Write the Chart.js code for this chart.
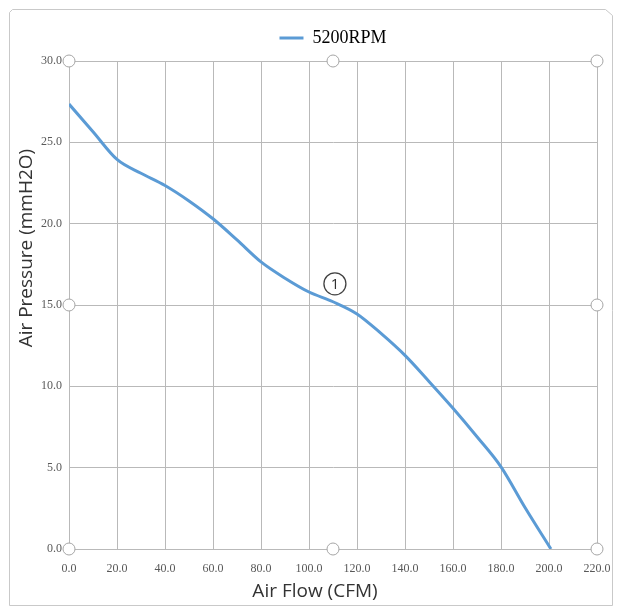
<!DOCTYPE html>
<html>
<head>
<meta charset="utf-8">
<script src="https://cdn.jsdelivr.net/npm/chart.js@4/dist/chart.umd.min.js"></script>
<style>
  html, body { margin: 0; padding: 0; background: #ffffff; }
  #wrap { width: 618px; height: 609px; }
</style>
</head>
<body>
<div id="wrap"><canvas id="fanCurve" width="618" height="609"></canvas></div>
<script>
// Values
const seriesName = "5200RPM";
const flowCfm = [0, 10, 20, 30, 40, 50, 60, 70, 80, 90, 100, 110, 120, 130, 140, 150, 160, 170, 180, 190, 200.8];
const pressureMmH2O = [27.35, 25.65, 23.95, 23.1, 22.35, 21.4, 20.3, 19.0, 17.65, 16.65, 15.8, 15.2, 14.45, 13.25, 11.9, 10.3, 8.65, 6.9, 5.05, 2.55, 0];
const xTicks = [0, 20, 40, 60, 80, 100, 120, 140, 160, 180, 200, 220];
const yTicks = [0, 5, 10, 15, 20, 25, 30];
const markerAt = [110.8, 16.3];
const markerLabel = "1";
const yTitle = "Air Pressure (mmH2O)";
const xTitle = "Air Flow (CFM)";

const lineColor = "#5b9bd5";
const gridColor = "#b9b9b9";
const serif = "'Liberation Serif', 'Times New Roman', serif";
const sans = "'Open Sans', sans-serif";

// Nudge the legend up a little, it sits closer to the frame in the original
const legendNudge = {
  id: "legendNudge",
  afterLayout: (chart) => {
    if (chart.legend) {
      chart.legend.top -= 4;
      chart.legend.bottom -= 4;
    }
  },
};

// Frame, axis titles, selection handles and the circled marker
const decorPlugin = {
  id: "decor",
  beforeDraw: (chart) => {
    const ctx = chart.ctx;
    ctx.save();
    ctx.fillStyle = "#ffffff";
    ctx.fillRect(0, 0, chart.width, chart.height);
    ctx.strokeStyle = "#c9c9c9";
    ctx.lineWidth = 1;
    ctx.beginPath();
    ctx.moveTo(12.5, 9.5);
    ctx.lineTo(605.5, 9.5);
    ctx.lineTo(612.5, 15.5);
    ctx.lineTo(612.5, 605.5);
    ctx.lineTo(9.5, 605.5);
    ctx.lineTo(9.5, 12.5);
    ctx.closePath();
    ctx.stroke();
    ctx.restore();
  },
  afterDraw: (chart) => {
    const ctx = chart.ctx;
    const { left, right, top, bottom } = chart.chartArea;
    const midX = (left + right) / 2;
    const midY = (top + bottom) / 2;

    // axis titles are a bit off-centre in the original
    ctx.save();
    ctx.fillStyle = "#333333";
    ctx.font = `19px ${sans}`;
    ctx.textAlign = "center";
    ctx.textBaseline = "middle";
    ctx.fillText(xTitle, chart.scales.x.getPixelForValue(102.5), 592);
    ctx.translate(27, chart.scales.y.getPixelForValue(18.5));
    ctx.rotate(-Math.PI / 2);
    ctx.fillText(yTitle, 0, 0);
    ctx.restore();

    const handles = [
      [left, top], [midX, top], [right, top],
      [left, midY], [right, midY],
      [left, bottom], [midX, bottom], [right, bottom],
    ];
    ctx.save();
    ctx.lineWidth = 1;
    ctx.strokeStyle = "#a6a6a6";
    ctx.fillStyle = "#ffffff";
    handles.forEach(([hx, hy]) => {
      ctx.beginPath();
      ctx.arc(hx, hy, 6, 0, Math.PI * 2);
      ctx.fill();
      ctx.stroke();
    });

    // circled "1" marker
    const mx = chart.scales.x.getPixelForValue(markerAt[0]);
    const my = chart.scales.y.getPixelForValue(markerAt[1]);
    ctx.beginPath();
    ctx.arc(mx, my, 11, 0, Math.PI * 2);
    ctx.fillStyle = "#ffffff";
    ctx.fill();
    ctx.strokeStyle = "#404040";
    ctx.lineWidth = 1.3;
    ctx.stroke();
    ctx.fillStyle = "#303030";
    ctx.font = `15px ${sans}`;
    ctx.textAlign = "center";
    ctx.textBaseline = "middle";
    ctx.fillText(markerLabel, mx, my + 1);
    ctx.restore();
  },
};

const buildChart = () => {
  const ctx = document.getElementById("fanCurve").getContext("2d");
  new Chart(ctx, {
    type: "line",
    data: {
      datasets: [
        {
          label: seriesName,
          data: flowCfm.map((f, i) => ({ x: f, y: pressureMmH2O[i] })),
          borderColor: lineColor,
          backgroundColor: lineColor,
          borderWidth: 3,
          pointRadius: 0,
          fill: false,
          cubicInterpolationMode: "monotone",
        },
      ],
    },
    options: {
      responsive: false,
      animation: false,
      layout: { padding: { left: 0, right: 21, top: 8, bottom: 0 } },
      plugins: {
        legend: {
          position: "top",
          fullSize: false,
          labels: {
            boxWidth: 24,
            boxHeight: 3,
            padding: 17,
            color: "#404040",
            font: { family: serif, size: 18 },
            generateLabels: () => [
              {
                text: seriesName,
                fillStyle: lineColor,
                strokeStyle: lineColor,
                lineWidth: 0,
                hidden: false,
                datasetIndex: 0,
              },
            ],
          },
        },
        tooltip: { enabled: false },
      },
      scales: {
        x: {
          type: "linear",
          min: 0,
          max: 220,
          afterBuildTicks: (scale) => {
            scale.ticks = xTicks.map((v) => ({ value: v }));
          },
          afterFit: (scale) => {
            scale.height = 60;
            scale.paddingLeft = 0;
            scale.paddingRight = 0;
          },
          grid: { color: gridColor, lineWidth: 1, drawTicks: false },
          border: { color: gridColor },
          ticks: {
            padding: 13,
            maxRotation: 0,
            color: "#595959",
            font: { family: serif, size: 12 },
            callback: (v) => Number(v).toFixed(1),
          },
        },
        y: {
          min: 0,
          max: 30,
          afterBuildTicks: (scale) => {
            scale.ticks = yTicks.map((v) => ({ value: v }));
          },
          afterFit: (scale) => {
            scale.width = 69;
            scale.paddingTop = 61;
          },
          grid: { color: gridColor, lineWidth: 1, drawTicks: false },
          border: { color: gridColor },
          ticks: {
            padding: 7,
            color: "#595959",
            font: { family: serif, size: 12 },
            callback: (v) => Number(v).toFixed(1),
          },
        },
      },
    },
    plugins: [legendNudge, decorPlugin],
  });
};

document.addEventListener("DOMContentLoaded", buildChart);
</script>
</body>
</html>
